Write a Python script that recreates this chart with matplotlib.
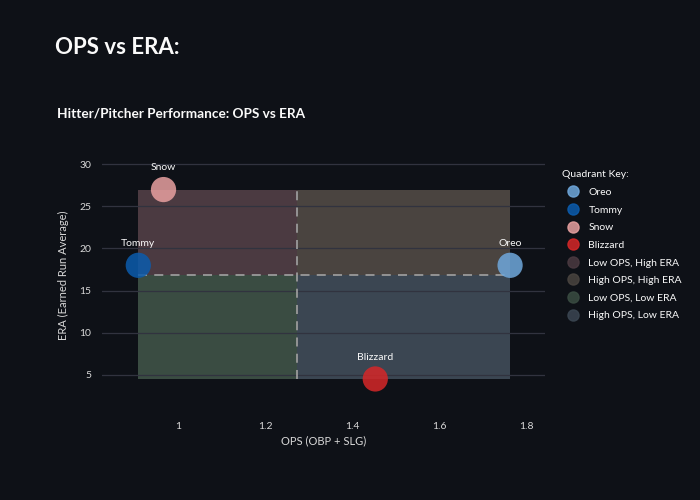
import matplotlib.pyplot as plt
from matplotlib.patches import Rectangle
from matplotlib.lines import Line2D
import numpy as np

# player data
players = ["Oreo", "Tommy", "Snow", "Blizzard"]
ops = [1.763, 0.908, 0.966, 1.453]
era = [18.0, 18.0, 27.0, 4.5]
player_colors = ["#6fa8dc", "#0b5cad", "#e8a0a0", "#d62728"]

quadrants = ["Low OPS, High ERA", "High OPS, High ERA", "Low OPS, Low ERA", "High OPS, Low ERA"]
quad_colors = ["#4b3a41", "#4a4440", "#3a4c42", "#3b4652"]

bg = "#0e1117"
txt = "#fafafa"
plt.rcParams['font.family'] = ['Lato', 'DejaVu Sans']

fig = plt.figure(figsize=(7, 5), dpi=100, facecolor=bg)
ax = fig.add_axes([0.146, 0.2, 0.633, 0.5], facecolor=bg)

ops_mid = np.mean(ops)
era_mid = np.mean(era)
x0, x1 = min(ops), max(ops)
y0, y1 = min(era), max(era)

# quadrant boxes
boxes = [(x0, era_mid, ops_mid, y1), (ops_mid, era_mid, x1, y1),
         (x0, y0, ops_mid, era_mid), (ops_mid, y0, x1, era_mid)]
for (a, b, c, d), col in zip(boxes, quad_colors):
    ax.add_patch(Rectangle((a, b), c - a, d - b, facecolor=col, edgecolor="none", zorder=1))

# grid over the boxes
for v in [5, 10, 15, 20, 25, 30]:
    ax.axhline(v, color="#31333f", lw=0.9, zorder=2)

# mean lines
ax.plot([ops_mid, ops_mid], [y0, y1], color="#9a9a9a", lw=1.3, ls=(0, (5, 4)), zorder=2.5)
ax.plot([x0, x1], [era_mid, era_mid], color="#9a9a9a", lw=1.3, ls=(0, (5, 4)), zorder=2.5)

for name, x, y, c in zip(players, ops, era, player_colors):
    ax.scatter(x, y, s=330, color=c, alpha=0.85, edgecolors="none", zorder=3)
    ax.annotate(name, (x, y), xytext=(0, 12.5), textcoords="offset points",
                ha="center", va="bottom", color=txt, fontsize=7.5, zorder=4)

ax.set_xlim(0.825, 1.844)
ax.set_ylim(2.0, 31.7)
ax.set_xticks([1, 1.2, 1.4, 1.6, 1.8])
ax.set_xticklabels(["1", "1.2", "1.4", "1.6", "1.8"])
ax.set_yticks([5, 10, 15, 20, 25, 30])
ax.tick_params(colors="#d8d8d8", labelsize=7.5, length=0, pad=8)
for s in ax.spines.values():
    s.set_visible(False)
ax.tick_params(axis="x", pad=16)
ax.set_xlabel("OPS (OBP + SLG)", color="#d8d8d8", fontsize=8, labelpad=3)
ax.set_ylabel("ERA (Earned Run Average)", color="#d8d8d8", fontsize=8, labelpad=7)

# legend
handles = [Line2D([], [], marker="o", ls="", markersize=8, color=c, alpha=0.85)
           for c in player_colors + quad_colors]
leg = fig.legend(handles, players + quadrants, title="Quadrant Key:",
                 loc="upper left", bbox_to_anchor=(0.79, 0.678), frameon=False,
                 fontsize=7.5, title_fontsize=7.5, labelcolor="#fafafa",
                 handletextpad=0.5, labelspacing=0.8, alignment="left")
leg.get_title().set_color("#fafafa")

fig.text(0.078, 0.905, "OPS vs ERA:", color=txt, fontsize=16, fontweight="bold", va="center")
fig.text(0.081, 0.774, "Hitter/Pitcher Performance: OPS vs ERA", color=txt,
         fontsize=9.8, fontweight="bold", va="center")

fig.savefig("out.png", dpi=100, facecolor=bg)
